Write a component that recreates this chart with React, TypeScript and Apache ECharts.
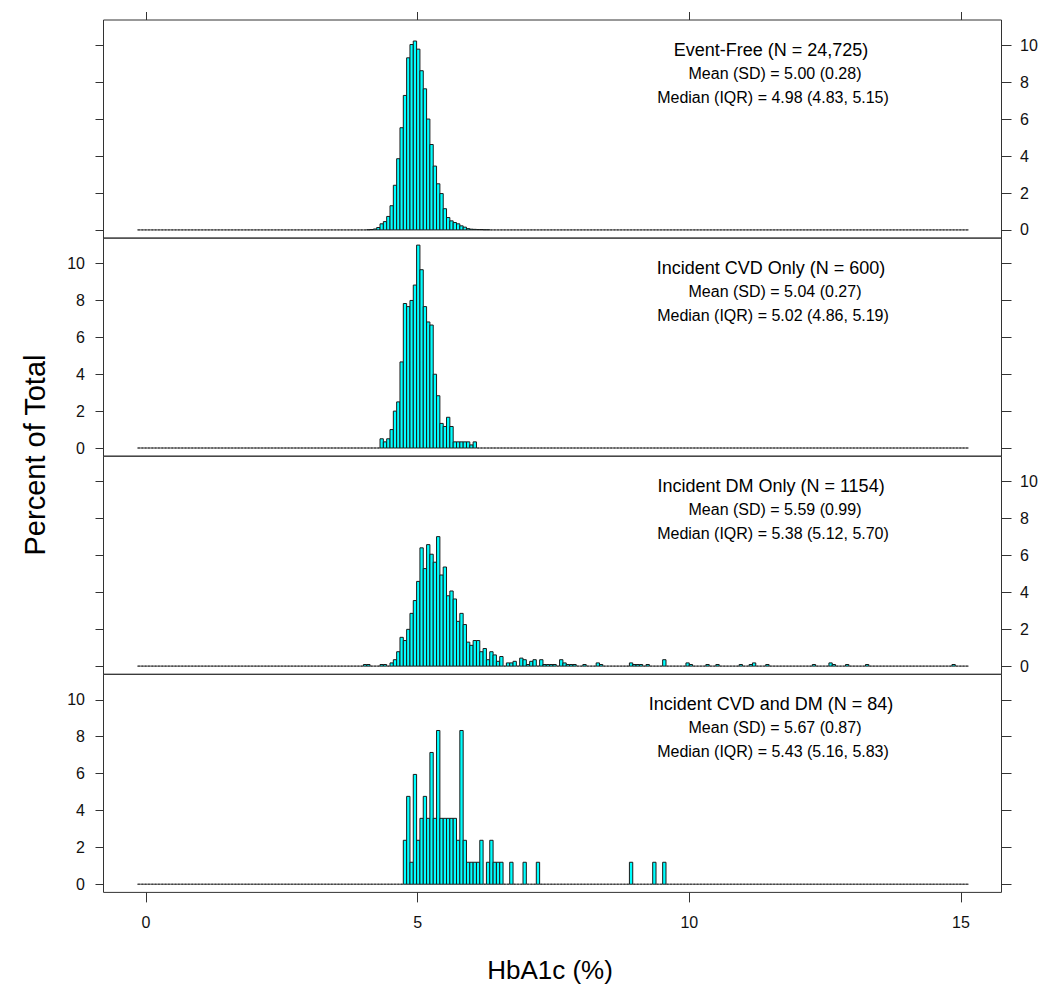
import React, { useEffect, useRef } from "react";
import * as echarts from "echarts";

// ---------- binning (HbA1c %) ----------
const BIN_START = -0.16;
const BIN_WIDTH = 0.0612;
const N_BINS = 250;

// ---------- axis ticks ----------
const X_TICKS = [0, 5, 10, 15];
const Y_TICKS = [0, 2, 4, 6, 8, 10];
const X_MIN = -0.782;
const X_MAX = 15.746;
const Y_MIN = -0.444;
const Y_MAX = 11.38;

// ---------- panel texts ----------
const panelTitles = [
  "Event-Free (N = 24,725)",
  "Incident CVD Only (N = 600)",
  "Incident DM Only (N = 1154)",
  "Incident CVD and DM (N = 84)",
];
const meanLines = [
  "Mean (SD) = 5.00 (0.28)",
  "Mean (SD) = 5.04 (0.27)",
  "Mean (SD) = 5.59 (0.99)",
  "Mean (SD) = 5.67 (0.87)",
];
const medianLines = [
  "Median (IQR) = 4.98 (4.83, 5.15)",
  "Median (IQR) = 5.02 (4.86, 5.19)",
  "Median (IQR) = 5.38 (5.12, 5.70)",
  "Median (IQR) = 5.43 (5.16, 5.83)",
];

// ---------- Event-Free: percent per bin, from bin index eventFreeStart ----------
const eventFreeStart = 69;
const eventFreePercent = [
  0.01, 0.02, 0.05, 0.13, 0.33, 0.45, 0.73, 1.31, 2.42, 3.86, 5.54, 7.29, 9.33,
  10.05, 10.24, 9.8, 8.63, 7.65, 6.01, 4.63, 3.46, 2.5, 1.97, 1.15, 0.67, 0.49,
  0.4, 0.33, 0.22, 0.15, 0.07, 0.04, 0.03, 0.02, 0.02, 0.01, 0.01,
];

// ---------- Incident CVD only: counts per bin ----------
const cvdOnlyN = 600;
const cvdOnlyStart = 73;
const cvdOnlyCounts = [
  3, 2, 3, 6, 12, 15, 28, 47, 46, 48, 53, 66, 58, 46, 41, 40, 24, 17, 8, 7, 10,
  7, 2, 2, 2, 2, 2, 1, 2,
];

// ---------- Incident DM only: counts per bin ----------
const dmOnlyN = 1154;
const dmOnlyStart = 68;
const dmOnlyCounts = [
  1, 1, 0, 0, 0, 1, 1, 0, 2, 4, 9, 18, 16, 23, 33, 41, 53, 74, 61, 76, 70, 65,
  81, 57, 62, 44, 47, 42, 28, 33, 26, 15, 13, 16, 16, 9, 11, 4, 9, 7, 3, 6, 0,
  2, 2, 3, 0, 5, 4, 1, 3, 4, 0, 4,
];
// [bin index, count]
const dmOnlyTail = [
  [122, 1], [123, 1], [124, 1], [125, 1], [127, 4], [128, 2], [129, 1],
  [130, 1], [131, 1], [134, 1], [138, 2], [139, 1], [148, 2], [149, 1],
  [150, 1], [151, 1], [153, 1], [158, 4], [165, 2], [166, 1], [171, 1],
  [174, 1], [181, 1], [184, 1], [185, 2], [189, 1], [203, 1], [208, 2],
  [209, 1], [213, 1], [219, 1], [245, 1],
];

// ---------- Incident CVD and DM: counts per bin ----------
const cvdDmN = 84;
const cvdDmStart = 80;
const cvdDmCounts = [
  2, 4, 1, 5, 2, 3, 4, 3, 6, 3, 7, 3, 3, 3, 3, 3, 2, 7, 2, 1, 1, 1, 1, 2, 0, 1,
  2, 1, 1, 1,
];
const cvdDmTail = [
  [112, 1], [116, 1], [120, 1], [148, 1], [155, 1], [158, 1],
];

// ---------- build per-bin percent arrays ----------
function buildBins(
  start: number,
  values: number[],
  tail: number[][],
  n: number | null
): number[][] {
  const arr: number[] = new Array(N_BINS).fill(0);
  values.forEach((v, k) => {
    arr[start + k] = n ? (v / n) * 100 : v;
  });
  tail.forEach(([i, v]) => {
    arr[i] = n ? (v / n) * 100 : v;
  });
  return arr.map((v, i) => [BIN_START + i * BIN_WIDTH, v]);
}

const panelData = [
  buildBins(eventFreeStart, eventFreePercent, [], null),
  buildBins(cvdOnlyStart, cvdOnlyCounts, [], cvdOnlyN),
  buildBins(dmOnlyStart, dmOnlyCounts, dmOnlyTail, dmOnlyN),
  buildBins(cvdDmStart, cvdDmCounts, cvdDmTail, cvdDmN),
];

const FONT = '"Liberation Sans", Arial, Helvetica, sans-serif';
const GRID_LEFT = 103.5;
const GRID_WIDTH = 898;
const GRID_TOP = 20;
const PANEL_H = 218.1;
const labelsOnLeft = [false, true, false, true];

export default function App() {
  const ref = useRef<HTMLDivElement>(null);

  useEffect(() => {
    if (!ref.current) return;
    const chart = echarts.init(ref.current, null, { renderer: "svg" });

    const grids: any[] = [];
    const xAxes: any[] = [];
    const yAxes: any[] = [];
    const series: any[] = [];
    const graphics: any[] = [];

    for (let i = 0; i < 4; i++) {
      grids.push({
        left: GRID_LEFT,
        top: GRID_TOP + i * PANEL_H,
        width: GRID_WIDTH,
        height: PANEL_H,
        show: true,
        borderColor: "#333",
        borderWidth: 1,
        backgroundColor: "transparent",
        containLabel: false,
        outerBoundsMode: "none",
      });
      xAxes.push({
        gridIndex: i,
        type: "value",
        min: X_MIN,
        max: X_MAX,
        position: i === 0 ? "top" : "bottom",
        axisLine: { show: false, onZero: false },
        splitLine: { show: false },
        axisTick: {
          show: i === 0 || i === 3,
          length: i === 0 ? 8 : 10,
          customValues: X_TICKS,
          lineStyle: { color: "#333", width: 1 },
        },
        axisLabel: {
          show: i === 3,
          customValues: X_TICKS,
          margin: 22,
          fontSize: 16,
          color: "#111",
          fontFamily: FONT,
        },
      });
      ["left", "right"].forEach((pos) => {
        const showLabel = (pos === "left") === labelsOnLeft[i];
        yAxes.push({
          gridIndex: i,
          type: "value",
          min: Y_MIN,
          max: Y_MAX,
          position: pos,
          axisLine: { show: false, onZero: false },
          splitLine: { show: false },
          axisTick: {
            show: true,
            length: pos === "left" ? 8 : 10,
            customValues: Y_TICKS,
            lineStyle: { color: "#333", width: 1 },
          },
          axisLabel: {
            show: showLabel,
            customValues: Y_TICKS,
            margin: 18.5,
            fontSize: 16,
            color: "#111",
            fontFamily: FONT,
          },
        });
      });
      series.push({
        type: "custom",
        xAxisIndex: i,
        yAxisIndex: i * 2,
        clip: false,
        silent: true,
        data: panelData[i],
        renderItem: (params: any, api: any) => {
          const x0 = api.value(0);
          const v = api.value(1);
          const p0 = api.coord([x0, 0]);
          const p1 = api.coord([x0 + BIN_WIDTH, v]);
          const empty = v === 0;
          return {
            type: "rect",
            shape: {
              x: p0[0],
              y: p1[1],
              width: p1[0] - p0[0],
              height: p0[1] - p1[1],
            },
            style: empty
              ? { fill: "none", stroke: "#333", lineWidth: 1, lineDash: [2.5, 0.8] }
              : { fill: "#00FFFF", stroke: "#1a1a1a", lineWidth: 1 },
          };
        },
      });
      const dy = i * PANEL_H;
      graphics.push(
        {
          type: "text",
          x: 771,
          y: 49.5 + dy,
          style: {
            text: panelTitles[i],
            fontSize: 18,
            fontFamily: FONT,
            fill: "#000",
            align: "center",
            verticalAlign: "middle",
          },
        },
        {
          type: "text",
          x: 775,
          y: 73.5 + dy,
          style: {
            text: meanLines[i],
            fontSize: 16,
            fontFamily: FONT,
            fill: "#000",
            align: "center",
            verticalAlign: "middle",
          },
        },
        {
          type: "text",
          x: 773,
          y: 97 + dy,
          style: {
            text: medianLines[i],
            fontSize: 16,
            fontFamily: FONT,
            fill: "#000",
            align: "center",
            verticalAlign: "middle",
          },
        }
      );
    }

    graphics.push(
      {
        type: "text",
        x: 35,
        y: 455,
        rotation: Math.PI / 2,
        style: {
          text: "Percent of Total",
          fontSize: 29,
          fontFamily: FONT,
          fill: "#000",
          align: "center",
          verticalAlign: "middle",
        },
      },
      {
        type: "text",
        x: 550,
        y: 970,
        style: {
          text: "HbA1c (%)",
          fontSize: 26,
          fontFamily: FONT,
          fill: "#000",
          align: "center",
          verticalAlign: "middle",
        },
      }
    );

    chart.setOption({
      animation: false,
      backgroundColor: "#fff",
      grid: grids,
      xAxis: xAxes,
      yAxis: yAxes,
      series,
      graphic: graphics,
    });

    return () => chart.dispose();
  }, []);

  return (
    <div
      ref={ref}
      style={{ position: "fixed", left: 0, top: 0, width: 1050, height: 999 }}
    />
  );
}
